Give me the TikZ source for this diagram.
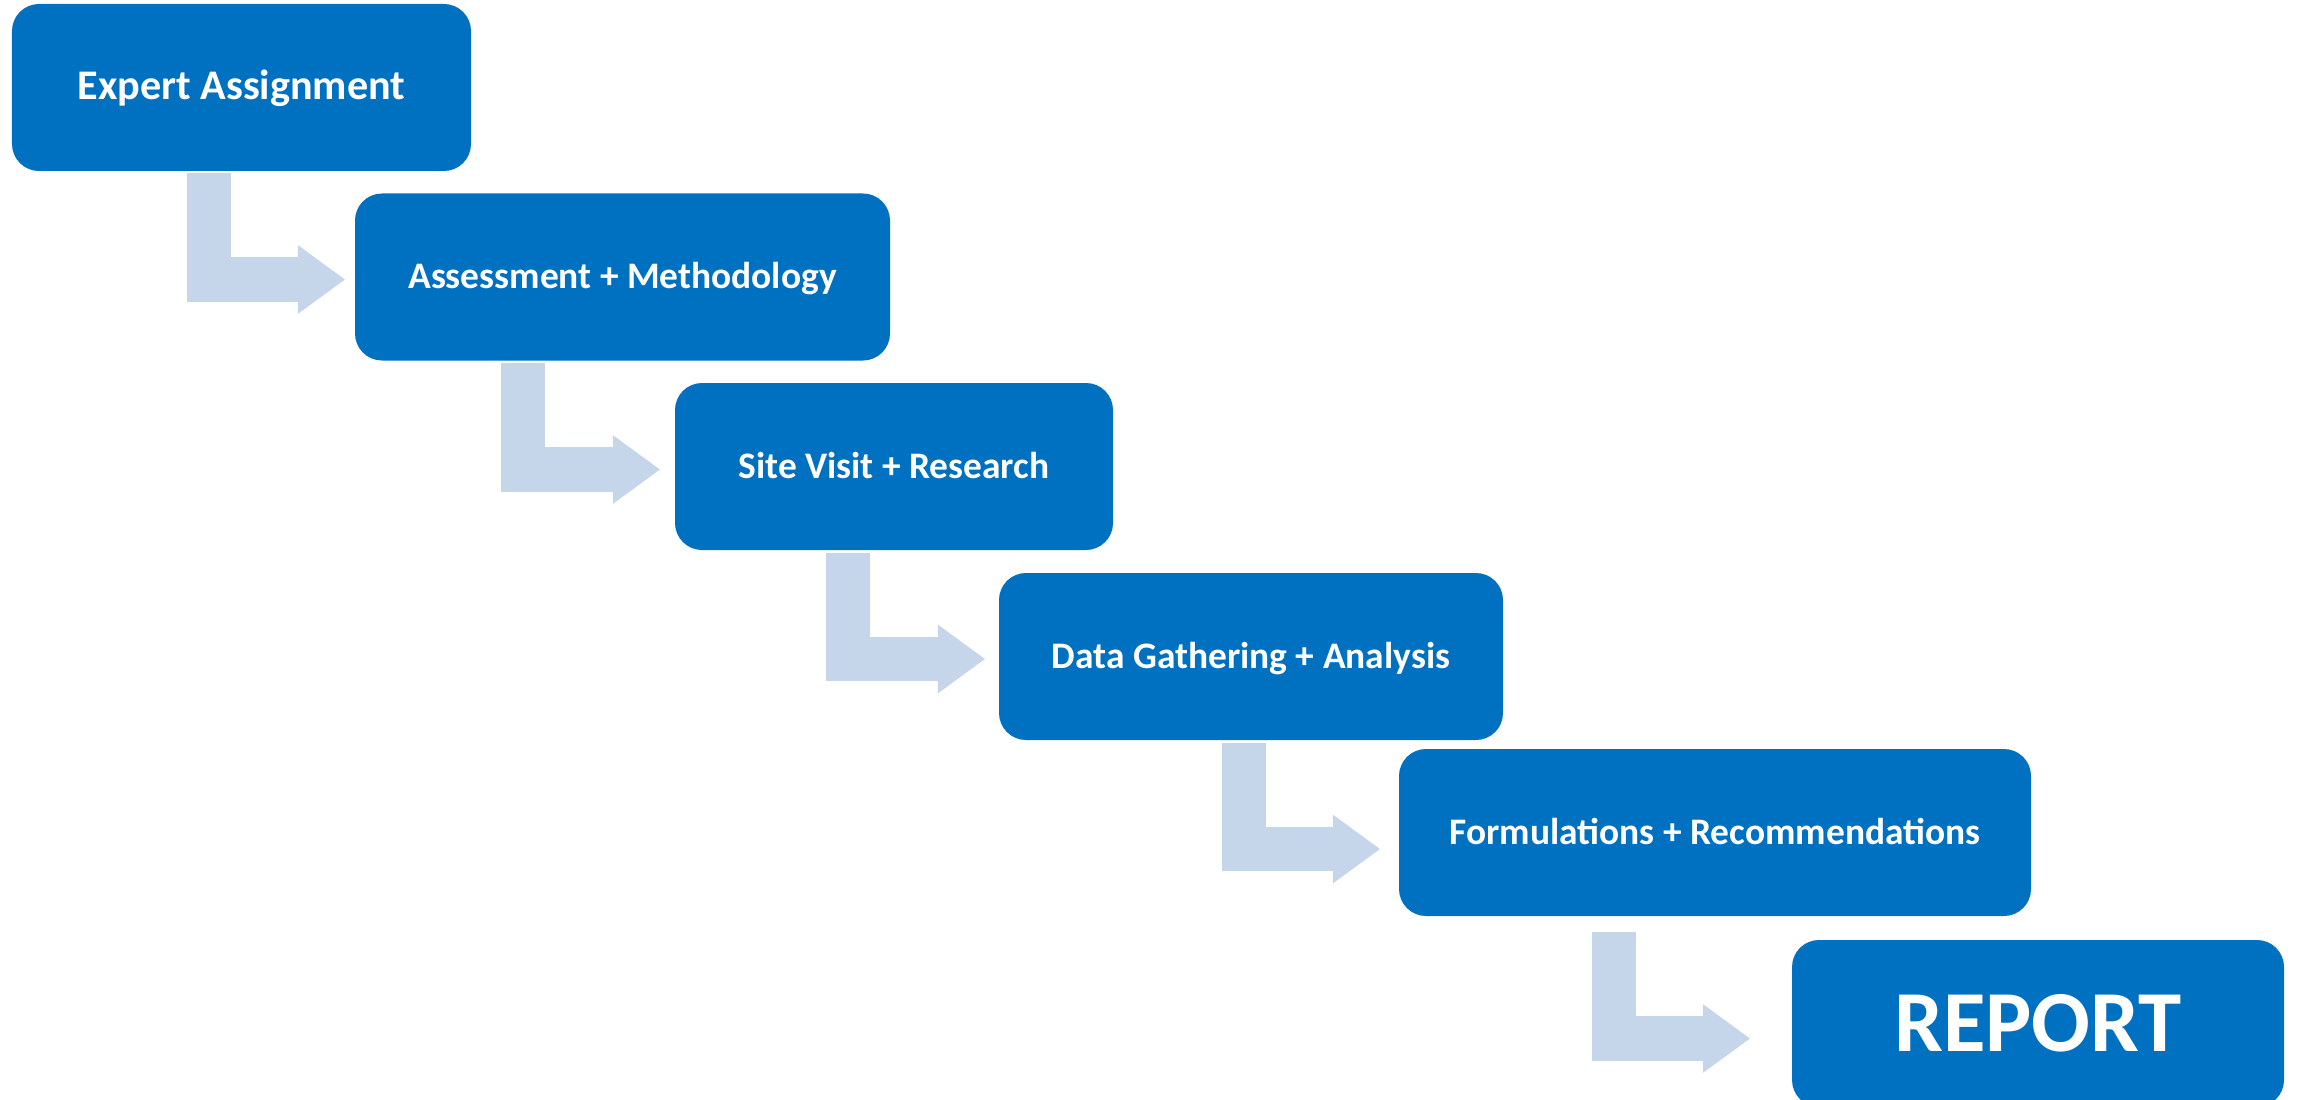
\documentclass[tikz,border=0pt]{standalone}
\usepackage{fontspec}
\setmainfont{Carlito}
\usetikzlibrary{arrows.meta}
\definecolor{stageblue}{HTML}{0070C0}
\definecolor{steplight}{HTML}{C5D5EA}
\tikzset{
  stage/.style={fill=stageblue, rounded corners=0.27cm, text=white, inner sep=0pt,
    minimum height=1.67cm, font=\bfseries\fontsize{10.65}{12.5}\selectfont,
    text height=6.8pt, text depth=0pt},
  steparrow/.style={draw=steplight, line width=0.445cm,
    -{Triangle[length=0.475cm,width=0.655cm]}}
}
\newcommand{\drawstage}[5]{
  \node[stage, minimum width=#4cm] (#1) at (#2,#3) {#5};
}

\begin{document}
\begin{tikzpicture}
  \clip (0,0) rectangle (22.98,-11);
  \drawstage{expert}{2.415}{-0.875}{4.59}{\fontsize{12}{14}\selectfont Expert Assignment}
  \drawstage{assess}{6.225}{-2.77}{5.35}{Assessment + Methodology}
  \drawstage{site}{8.94}{-4.665}{4.38}{Site Visit + Research}
  \drawstage{data}{12.51}{-6.565}{5.04}{Data Gathering + Analysis}
  \drawstage{formul}{17.15}{-8.325}{6.32}{Formulations + Recommendations}
  \node[stage, minimum width=4.92cm, text height=15.8pt,
    font=\bfseries\fontsize{24.75}{28}\selectfont] (report) at (20.38,-10.235) {REPORT};

  % bent arrows between the stages
  \coordinate (s1) at (2.09,-1.73);
  \coordinate (s2) at (5.23,-3.63);
  \coordinate (s3) at (8.48,-5.53);
  \coordinate (s4) at (12.44,-7.43);
  \coordinate (s5) at (16.14,-9.32);
  \draw[steparrow] (s1) |- ([xshift=-0.09cm,yshift=-0.025cm]assess.west);
  \draw[steparrow] (s2) |- ([xshift=-0.14cm,yshift=-0.03cm]site.west);
  \draw[steparrow] (s3) |- ([xshift=-0.13cm,yshift=-0.025cm]data.west);
  \draw[steparrow] (s4) |- ([xshift=-0.18cm,yshift=-0.165cm]formul.west);
  \draw[steparrow] (s5) |- ([xshift=-0.41cm,yshift=-0.15cm]report.west);
\end{tikzpicture}
\end{document}
